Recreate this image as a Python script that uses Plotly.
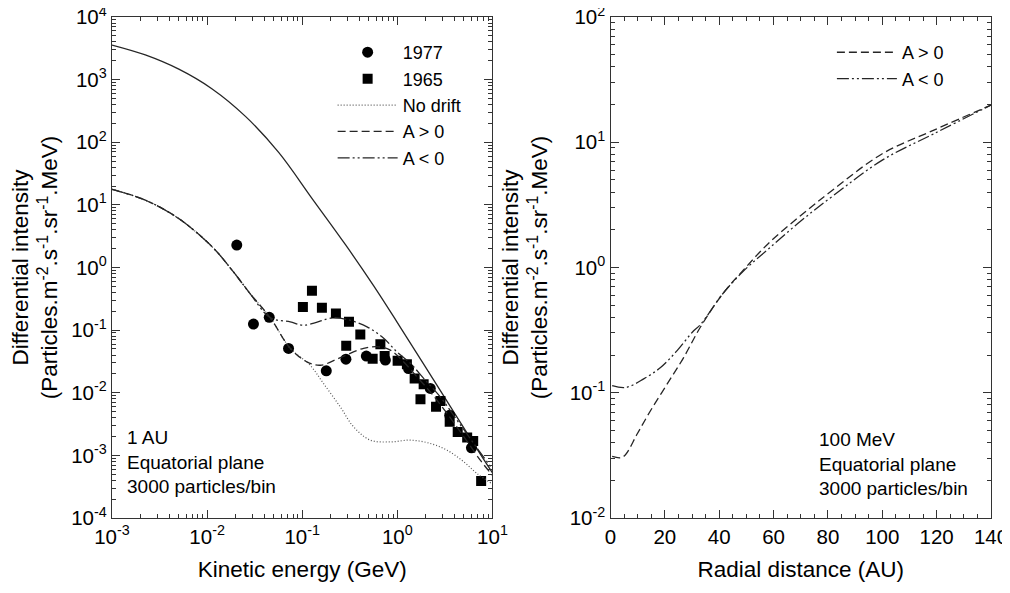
import plotly.graph_objects as go
from plotly.subplots import make_subplots

# ---------------- data: left panel (kinetic energy, GeV) ----------------
lis_E = [0.001, 0.00224, 0.00504, 0.0113, 0.0253, 0.0568, 0.127, 0.286, 0.562, 1.0, 3.01, 7.6, 10]
lis_I = [3570, 2480, 1469, 710, 259, 68.2, 12.6, 2.29, 0.513, 0.132, 0.0093, 0.001, 0.000525]

common_E = [0.001, 0.00224, 0.00504, 0.0113, 0.0189, 0.0284, 0.046]
common_I = [17.7, 11.9, 6.03, 2.14, 0.851, 0.38, 0.158]

neg_E = common_E + [0.0748, 0.103, 0.214, 0.295, 0.48, 0.718, 0.993, 1.37, 1.89, 2.84, 4.25, 6.35, 10]
neg_I = common_I + [0.136, 0.120, 0.158, 0.148, 0.113, 0.0741, 0.0447, 0.0295, 0.0170, 0.00851, 0.00363, 0.00155, 0.00060]

pos_E = common_E + [0.0748, 0.112, 0.155, 0.251, 0.442, 0.635, 0.843, 1.16, 1.61, 2.22, 3.33, 4.99, 7.48, 10]
pos_I = common_I + [0.0513, 0.0312, 0.0275, 0.0363, 0.0513, 0.0541, 0.0479, 0.0312, 0.0179, 0.0103, 0.00468, 0.0020, 0.00083, 0.00048]

nod_E = common_E + [0.0748, 0.121, 0.167, 0.251, 0.347, 0.52, 0.843, 1.37, 2.22, 3.33, 4.99, 6.9, 10]
nod_I = common_I + [0.0513, 0.0275, 0.0141, 0.00596, 0.00285, 0.00175, 0.00164, 0.00175, 0.00155, 0.00121, 0.00079, 0.00051, 0.00035]

obs1977_E = [0.0205, 0.0307, 0.045, 0.0718, 0.179, 0.288, 0.472, 0.748, 1.31, 2.22, 3.55, 6.01]
obs1977_I = [2.28, 0.125, 0.16, 0.051, 0.0224, 0.0344, 0.0385, 0.0332, 0.0244, 0.0117, 0.00438, 0.00132]

obs1965_E = [0.1016, 0.1265, 0.161, 0.226, 0.31, 0.408, 0.29, 0.663, 0.55, 0.735, 1.007, 1.26,
             1.52, 1.89, 1.75, 2.84, 2.55, 3.55, 4.31, 5.42, 6.27, 7.6]
obs1965_I = [0.235, 0.425, 0.227, 0.185, 0.136, 0.0853, 0.0562, 0.0597, 0.0348, 0.0385, 0.0324, 0.0286,
             0.0169, 0.0137, 0.0079, 0.0074, 0.0060, 0.00343, 0.00237, 0.00193, 0.00169, 0.00039]

# ---------------- data: right panel (radial distance, AU) ----------------
r_pos = [0.6, 3.7, 5.5, 9.8, 14.7, 20.8, 26.9, 33.1, 41.3, 49, 58, 70, 82, 100, 119, 140]
I_pos = [0.031, 0.0303, 0.032, 0.0468, 0.0718, 0.117, 0.191, 0.335, 0.617, 0.96, 1.55, 2.6, 4.2, 8.1, 12.5, 19.8]
r_neg = [0.6, 5.5, 12.2, 18.4, 24.5, 30.6, 33.1, 41.3, 49, 58, 70, 82, 100, 119, 140]
I_neg = [0.114, 0.110, 0.129, 0.159, 0.217, 0.313, 0.35, 0.617, 0.94, 1.40, 2.35, 3.75, 7.2, 11.7, 19.8]

# ---------------- tick labels ----------------
left_x_vals = [1e-3, 1e-2, 1e-1, 1e0, 1e1]
left_x_text = ["10<sup>-3</sup>", "10<sup>-2</sup>", "10<sup>-1</sup>", "10<sup>0</sup>", "10<sup>1</sup>"]
left_y_vals = [1e-4, 1e-3, 1e-2, 1e-1, 1e0, 1e1, 1e2, 1e3, 1e4]
left_y_text = ["10<sup>-4</sup>", "10<sup>-3</sup>", "10<sup>-2</sup>", "10<sup>-1</sup>", "10<sup>0</sup>",
               "10<sup>1</sup>", "10<sup>2</sup>", "10<sup>3</sup>", "10<sup>4</sup>"]
right_y_vals = [1e-2, 1e-1, 1e0, 1e1, 1e2]
right_y_text = ["10<sup>-2</sup>", "10<sup>-1</sup>", "10<sup>0</sup>", "10<sup>1</sup>", "10<sup>2</sup>"]


def log_minor(lo, hi):
    # minor tick positions (2..9 x decade) for styling only
    out = []
    for k in range(lo, hi):
        for m in range(2, 10):
            out.append(m * 10.0 ** k)
    return out


FONT = "Liberation Sans, Arial, sans-serif"
LC = "#262626"
DASH_POS = "8px,4px"
DASH_NEG = "12px,3px,2px,3px,2px,3px"
DASH_DOT = "1px,2px"

fig = make_subplots(rows=1, cols=2, horizontal_spacing=0.1343)

fig.add_trace(go.Scatter(x=lis_E, y=lis_I, mode="lines", line=dict(color=LC, width=1.3, shape="spline"),
                         showlegend=False), 1, 1)
fig.add_trace(go.Scatter(x=obs1977_E, y=obs1977_I, mode="markers", name="1977",
                         marker=dict(symbol="circle", size=11, color="black"), legend="legend"), 1, 1)
fig.add_trace(go.Scatter(x=obs1965_E, y=obs1965_I, mode="markers", name="1965",
                         marker=dict(symbol="square", size=10, color="black"), legend="legend"), 1, 1)
fig.add_trace(go.Scatter(x=nod_E, y=nod_I, mode="lines", name="No drift",
                         line=dict(color="#555", width=1.2, dash=DASH_DOT, shape="spline"), legend="legend"), 1, 1)
fig.add_trace(go.Scatter(x=pos_E, y=pos_I, mode="lines", name="A > 0",
                         line=dict(color=LC, width=1.3, dash=DASH_POS, shape="spline"), legend="legend"), 1, 1)
fig.add_trace(go.Scatter(x=neg_E, y=neg_I, mode="lines", name="A < 0",
                         line=dict(color=LC, width=1.3, dash=DASH_NEG, shape="spline"), legend="legend"), 1, 1)

fig.add_trace(go.Scatter(x=r_pos, y=I_pos, mode="lines", name="A > 0",
                         line=dict(color=LC, width=1.3, dash=DASH_POS, shape="spline"), legend="legend2"), 1, 2)
fig.add_trace(go.Scatter(x=r_neg, y=I_neg, mode="lines", name="A < 0",
                         line=dict(color=LC, width=1.3, dash=DASH_NEG, shape="spline"), legend="legend2"), 1, 2)

axis_common = dict(showline=True, linecolor="#333", linewidth=1.3, mirror="allticks", ticks="inside",
                   ticklen=8, tickwidth=1.2, tickcolor="#333", showgrid=False, zeroline=False,
                   automargin=False, ticklabeloverflow="allow",
                   tickfont=dict(family=FONT, size=20.5, color="black"),
                   title_font=dict(family=FONT, size=22.5, color="black"))

ytitle = "Differential intensity<br>(Particles.m<sup>-2</sup>.s<sup>-1</sup>.sr<sup>-1</sup>.MeV)"
minor_style = dict(ticks="inside", ticklen=4, tickwidth=1, tickcolor="#333", showgrid=False)

fig.update_xaxes(type="log", range=[-3, 1], tickmode="array", tickvals=left_x_vals, ticktext=left_x_text,
                 minor=dict(tickmode="array", tickvals=log_minor(-3, 1), **minor_style),
                 title_text="Kinetic energy (GeV)", title_standoff=14, row=1, col=1, **axis_common)
fig.update_yaxes(type="log", range=[-4, 4], tickmode="array", tickvals=left_y_vals, ticktext=left_y_text,
                 minor=dict(tickmode="array", tickvals=log_minor(-4, 4), **minor_style),
                 title_text=ytitle, row=1, col=1, **axis_common)
fig.update_xaxes(range=[0, 140], tickmode="linear", tick0=0, dtick=20,
                 minor=dict(tickmode="linear", tick0=0, dtick=5, **minor_style),
                 title_text="Radial distance (AU)", title_standoff=14, row=1, col=2, **axis_common)
fig.update_yaxes(type="log", range=[-2, 2], tickmode="array", tickvals=right_y_vals, ticktext=right_y_text,
                 minor=dict(tickmode="array", tickvals=log_minor(-2, 2), **minor_style),
                 title_text=ytitle, row=1, col=2, **axis_common)

# the page adds an 8 px offset, so the figure is 8 px smaller and margins compensate
fig.update_layout(
    width=1002, height=585,
    margin=dict(l=104, r=19, t=9, b=75),
    paper_bgcolor="white", plot_bgcolor="white",
    font=dict(family=FONT, size=19, color="black"),
    legend=dict(x=0.251, y=0.966, xanchor="left", yanchor="top", bgcolor="rgba(0,0,0,0)",
                itemwidth=60, font=dict(family=FONT, size=18), tracegroupgap=0),
    legend2=dict(x=0.819, y=0.966, xanchor="left", yanchor="top", bgcolor="rgba(0,0,0,0)",
                 itemwidth=60, font=dict(family=FONT, size=18)),
    annotations=[
        dict(text="1 AU<br>Equatorial plane<br>3000 particles/bin", xref="x domain", yref="y domain",
             x=0.034, y=0.112, xanchor="left", yanchor="middle", align="left", showarrow=False,
             font=dict(family=FONT, size=19, color="black")),
        dict(text="100 MeV<br>Equatorial plane<br>3000 particles/bin", xref="x2 domain", yref="y2 domain",
             x=0.543, y=0.108, xanchor="left", yanchor="middle", align="left", showarrow=False,
             font=dict(family=FONT, size=19, color="black")),
    ],
)

fig.write_html("out.html")
